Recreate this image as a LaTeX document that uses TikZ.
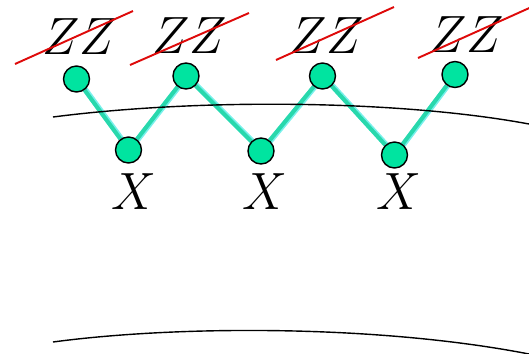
\documentclass[tikz,border=0pt]{standalone}
\usepackage{graphicx}
\usepackage{xcolor}
\definecolor{chmint}{RGB}{0,228,160}
\definecolor{chteal}{RGB}{40,216,172}
\definecolor{chglow}{RGB}{120,240,235}
\definecolor{chred}{RGB}{222,10,10}
\usetikzlibrary{positioning,backgrounds}
\tikzset{
  site/.style={draw=black, line width=0.8pt, circle, fill=chmint,
               minimum size=0.52cm, inner sep=0pt},
  bond/.style={line width=3.2pt, chglow},
  bondcore/.style={line width=2.3pt, chteal},
  oplabel/.style={font=\Huge, inner sep=0pt},
  strike/.style={chred, line width=1.1pt},
  sheet/.style={black, line width=0.8pt},
}
\newcommand{\opsym}[1]{\scalebox{1.15}[1.2]{$#1$}}

\begin{document}
\begin{tikzpicture}[x=0.02cm, y=-0.02cm]
\useasboundingbox (0,0) rectangle (529,353);
\clip (0,0) rectangle (529,353);

% --- chain sites ---
\node[site] (t1) at (76.5,79) {};
\node[site] (t2) at (186,76) {};
\node[site] (t3) at (322.5,76) {};
\node[site] (t4) at (455,74.5) {};
\node[site] (b1) at (128.5,150) {};
\node[site] (b2) at (261,151) {};
\node[site] (b3) at (394.5,155) {};

% bonds behind the sites
\begin{pgfonlayer}{background}
\foreach \a/\b in {t1/b1, b1/t2, t2/b2, b2/t3, t3/b3, b3/t4} {
  \draw[bond] ([xshift=0.6pt]\a.center) -- ([xshift=0.6pt]\b.center);
  \draw[bondcore] (\a) -- (\b);
}
\end{pgfonlayer}

% --- sheets ---
\draw[sheet] (53,117) .. controls (200,98) and (400,100) .. (529,124);
\draw[sheet] (53,342) .. controls (180,325) and (380,325) .. (529,354);

% --- X labels ---
\node[oplabel] (x1) at (134,192) {\opsym{X}};
\node[oplabel] (x2) at (265,192) {\opsym{X}};
\node[oplabel] (x3) at (399,192) {\opsym{X}};

% --- crossed-out ZZ labels ---
\node[oplabel] (zz1) at (80,37) {\opsym{ZZ}};
\node[oplabel] (zz2) at (190,36) {\opsym{ZZ}};
\node[oplabel] (zz3) at (327,36) {\opsym{ZZ}};
\node[oplabel] (zz4) at (467,35) {\opsym{ZZ}};

\draw[strike] (15,64) -- (133,11);
\draw[strike] (130,65) -- (249,13);
\draw[strike] (276,60) -- (394,7);
\draw[strike] (418,58) -- (536,5);

\end{tikzpicture}
\end{document}
